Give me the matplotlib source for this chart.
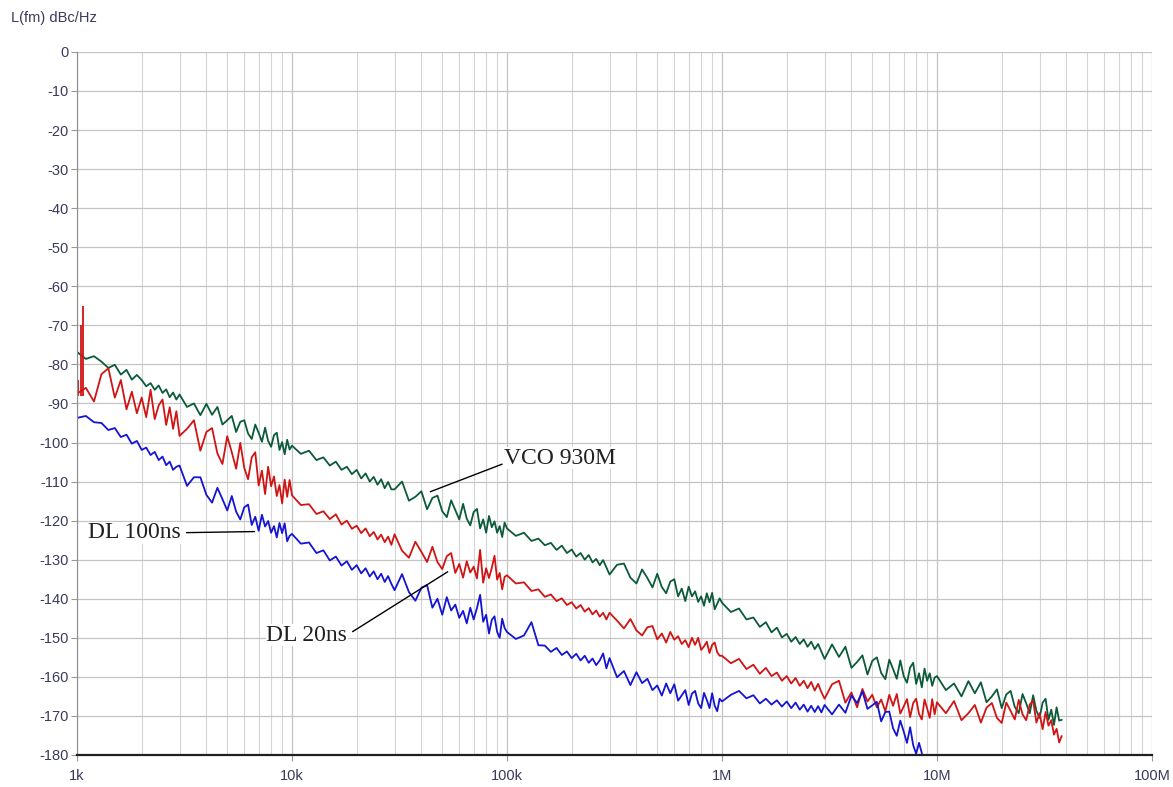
import matplotlib
matplotlib.use("Agg")
import matplotlib.pyplot as plt
from matplotlib.ticker import LogLocator, NullFormatter

plt.rcParams["axes.unicode_minus"] = False

# sweep points inside one decade (finer at the start of each decade)
mant = [1.0, 1.1, 1.2, 1.3, 1.4, 1.5, 1.6, 1.7, 1.8, 1.9, 2.0, 2.1, 2.2, 2.3, 2.4, 2.5, 2.6, 2.7, 2.8, 2.9,
        3.0, 3.25, 3.5, 3.75, 4.0, 4.25, 4.5, 4.75, 5.0, 5.25, 5.5, 5.75, 6.0, 6.25, 6.5, 6.75,
        7.0, 7.25, 7.5, 7.75, 8.0, 8.25, 8.5, 8.75, 9.0, 9.25, 9.5, 9.75]
# last (10M..38M) sweep
mant_top = [1.0, 1.1, 1.2, 1.3, 1.4, 1.5, 1.6, 1.7, 1.8, 1.9, 2.0, 2.1, 2.2, 2.3,
            2.4, 2.5, 2.6, 2.7, 2.8, 2.9, 3.0, 3.1, 3.2, 3.3, 3.4, 3.5, 3.6, 3.7, 3.8]

# VCO 930M (green), dBc/Hz
green_1k = [-76.8, -78.6, -77.9, -79.3, -80.9, -80.1, -82.6, -81.4, -83.9, -82.7, -84.0, -85.6, -84.8, -86.5,
            -85.4, -87.3, -86.4, -88.4, -87.2, -89.0,
            -87.7, -90.9, -90.0, -93.0, -90.1, -92.9, -90.9, -95.4, -94.3, -93.2, -97.3, -94.7, -94.3, -97.7,
            -99.1, -95.4, -97.5, -99.8, -96.2, -99.6, -101.1, -98.1, -97.5, -101.9, -99.9, -103.0, -99.3, -101.8]
green_10k = [-100.8, -102.9, -102.1, -104.5, -103.8, -105.9, -104.9, -107.0, -106.2, -108.1, -107.0, -109.2,
             -107.9, -110.0, -108.8, -110.8, -109.4, -111.7, -110.1, -112.0,
             -112.0, -110.0, -114.9, -113.9, -112.5, -117.1, -114.2, -113.6, -117.6, -119.1, -114.8, -117.3,
             -119.7, -115.7, -119.5, -121.2, -117.8, -117.0, -122.0, -119.7, -123.1, -118.8, -121.7, -120.2,
             -123.1, -121.4, -124.2, -120.5]
green_100k = [-122.0, -123.9, -123.1, -125.2, -124.6, -126.3, -125.7, -127.5, -126.4, -128.3, -127.4, -129.2,
              -128.3, -130.0, -128.8, -130.7, -129.8, -131.4, -130.1, -132.0,
              -133.8, -131.3, -131.0, -134.6, -136.1, -132.5, -134.7, -137.1, -133.6, -137.0, -138.6, -135.6,
              -135.0, -139.4, -137.4, -140.6, -136.9, -139.4, -138.1, -140.8, -139.4, -141.8, -138.6, -140.9,
              -138.5, -142.7, -141.3, -139.9]
green_1m = [-141.0, -143.4, -142.5, -145.3, -144.8, -147.2, -146.0, -148.6, -147.4, -149.9, -149.0, -151.0,
            -149.8, -151.6, -150.4, -152.3, -151.0, -152.9, -151.6, -153.5,
            -155.4, -151.7, -154.9, -152.3, -157.7, -156.2, -154.5, -159.4, -155.9, -155.0, -159.0, -160.6,
            -155.6, -158.0, -160.5, -155.8, -159.8, -161.5, -157.6, -156.4, -161.8, -159.1, -162.7, -157.9,
            -161.0, -159.1, -162.3, -160.2]
green_10m = [-159.8, -163.4, -161.7, -165.0, -161.1, -164.2, -161.4, -166.5, -165.0, -163.2,
             -168.0, -164.5, -163.6, -167.7, -169.3, -164.4, -166.8, -169.3, -164.7, -168.7,
             -170.5, -166.6, -165.6, -171.0, -168.4, -172.3, -167.8, -171.2, -171.0]

# DL 20ns (red)
red_1k = [-87.5, -86.0, -89.5, -82.5, -81.0, -88.5, -84.0, -91.5, -87.0, -92.5, -88.5, -93.5, -86.5, -94.0,
          -90.5, -89.0, -95.5, -91.0, -96.5, -92.0,
          -98.3, -96.5, -94.3, -102.1, -97.3, -96.3, -102.8, -105.5, -98.4, -102.5, -106.7, -100.1,
          -106.5, -109.4, -103.8, -102.5, -111.0, -107.2, -113.2, -106.2, -111.2, -108.7, -113.7, -110.9,
          -115.6, -109.5, -113.9, -109.6]
red_10k = [-113.5, -116.0, -115.8, -118.3, -117.6, -119.6, -118.4, -121.0, -120.0, -122.1, -121.3, -123.2,
           -122.0, -124.0, -122.9, -124.8, -123.6, -125.5, -124.1, -126.2,
           -123.5, -127.7, -129.5, -125.4, -128.0, -130.6, -126.7, -130.6, -132.4, -129.1, -128.3, -133.4,
           -131.1, -134.6, -130.4, -133.3, -131.8, -134.8, -127.5, -135.9, -132.2, -134.7, -132.1, -129.0,
           -135.1, -133.4, -137.6, -134.4]
red_100k = [-134.0, -136.1, -135.8, -138.0, -137.6, -139.5, -138.9, -140.6, -139.9, -141.6, -140.9, -142.5,
            -141.6, -143.3, -142.4, -144.0, -143.0, -144.6, -143.6, -145.3,
            -143.6, -145.6, -147.6, -145.2, -148.1, -149.4, -147.3, -147.0, -150.4, -148.9, -151.2, -148.5,
            -150.5, -149.6, -151.6, -150.6, -152.4, -150.0, -151.8, -150.0, -153.1, -152.2, -151.0, -153.9,
            -151.8, -151.2, -153.7, -154.6]
red_1m = [-154.6, -156.5, -155.4, -158.0, -156.9, -159.2, -157.7, -159.8, -158.9, -161.0, -159.8, -161.7,
          -160.3, -162.3, -161.0, -162.9, -161.3, -163.5, -161.8, -163.9,
          -165.6, -161.9, -161.0, -166.6, -164.0, -167.8, -163.1, -166.3, -164.6, -167.8, -165.8, -168.8,
          -164.6, -167.4, -164.4, -169.4, -167.6, -165.7, -170.3, -166.7, -165.6, -169.5, -170.9, -165.8,
          -168.1, -170.5, -165.7, -169.6]
red_10m = [-166.5, -169.3, -166.2, -171.1, -169.3, -167.2, -171.7, -167.9, -166.7, -170.5,
           -171.8, -166.6, -168.7, -170.9, -165.9, -169.6, -171.1, -167.1, -166.1, -171.7,
           -169.3, -173.4, -169.0, -172.5, -171.1, -174.8, -173.3, -176.8, -175.2]
# spur at the start of the red trace
red_spur_f = [1010, 1040, 1070]
red_spur_base = [-88, -88, -88]
red_spur_top = [-84, -70, -65]

# DL 100ns (blue)
blue_1k = [-93.7, -93.2, -94.8, -95.0, -96.8, -96.3, -98.6, -98.0, -100.3, -99.6, -101.9, -101.3, -103.2,
           -102.4, -104.5, -103.6, -105.8, -104.9, -107.0, -106.2,
           -105.9, -111.1, -108.9, -108.9, -113.4, -115.4, -111.6, -114.5, -117.4, -113.7, -117.7, -119.7,
           -116.6, -115.9, -121.1, -119.0, -122.6, -118.5, -121.5, -120.1, -123.1, -121.4, -124.3, -120.6,
           -123.2, -120.7, -125.3, -123.9]
blue_10k = [-123.4, -125.9, -125.6, -128.3, -127.6, -130.2, -129.2, -131.5, -130.4, -132.6, -131.4, -133.5,
            -132.2, -134.3, -133.0, -135.0, -133.6, -135.7, -134.2, -136.2,
            -137.8, -133.7, -138.3, -140.5, -137.2, -136.5, -142.3, -140.0, -144.1, -139.6, -143.0, -141.5,
            -144.9, -143.1, -146.3, -142.3, -145.3, -142.4, -139.0, -145.9, -144.1, -148.9, -145.4, -144.5,
            -148.5, -150.0, -145.1, -147.5]
blue_100k = [-148.5, -150.3, -149.4, -146.0, -151.9, -152.0, -153.6, -152.6, -154.4, -153.5, -155.2, -154.1,
             -155.8, -154.6, -156.4, -155.3, -157.0, -155.8, -154.0, -157.8,
             -155.2, -160.1, -158.5, -162.1, -158.8, -161.6, -160.5, -163.4, -162.2, -164.8, -161.7, -164.2,
             -161.9, -166.1, -164.7, -163.4, -167.2, -164.3, -163.6, -166.8, -168.0, -164.1, -165.9, -168.0,
             -164.2, -167.4, -168.8, -165.6]
blue_1m = [-166.3, -164.6, -163.6, -165.5, -164.7, -166.8, -165.6, -167.1, -166.0, -167.6, -166.3, -168.0,
           -166.6, -168.4, -167.1, -168.9, -167.4, -169.0, -167.5, -169.1,
           -167.2, -169.6, -167.1, -169.2, -164.8, -166.7, -163.7, -168.2, -167.3, -166.4, -171.4, -169.0,
           -168.9, -173.2, -175.1, -171.2, -174.0, -176.9, -172.9, -177.5, -179.7, -176.9, -179.5]

y_ticks = list(range(0, -190, -10))
x_ticks = [1e3, 1e4, 1e5, 1e6, 1e7, 1e8]
x_labels = ["1k", "10k", "100k", "1M", "10M", "100M"]


def sweep(parts):
    # join the decade sweeps into one trace
    f, db = [], []
    for start, m_list, vals in parts:
        for m, v in zip(m_list, vals):
            f.append(m * start)
            db.append(v)
    return f, db


green_f, green_db = sweep([(1e3, mant, green_1k), (1e4, mant, green_10k), (1e5, mant, green_100k),
                           (1e6, mant, green_1m), (1e7, mant_top, green_10m)])
red_f, red_db = sweep([(1e3, mant, red_1k), (1e4, mant, red_10k), (1e5, mant, red_100k),
                       (1e6, mant, red_1m), (1e7, mant_top, red_10m)])
blue_f, blue_db = sweep([(1e3, mant, blue_1k), (1e4, mant, blue_10k), (1e5, mant, blue_100k),
                         (1e6, mant, blue_1m)])

c_green = "#0b5a38"
c_red = "#d01414"
c_blue = "#1414d2"

fig = plt.figure(figsize=(11.73, 7.87), dpi=100)
ax = fig.add_axes([0.0656, 0.0407, 0.9165, 0.8933])

ax.plot(green_f, green_db, color=c_green, lw=1.3)
ax.plot(red_f, red_db, color=c_red, lw=1.3)
ax.vlines(red_spur_f, red_spur_base, red_spur_top, color=c_red, lw=1.3)
ax.plot(blue_f, blue_db, color=c_blue, lw=1.3)

ax.set_xscale("log")
ax.set_xlim(1e3, 1e8)
ax.set_ylim(-180, 0)

ax.set_yticks(y_ticks)
ax.set_xticks(x_ticks)
ax.set_xticklabels(x_labels)
ax.xaxis.set_minor_locator(LogLocator(base=10, subs=[2, 3, 4, 5, 6, 7, 8, 9], numticks=20))
ax.xaxis.set_minor_formatter(NullFormatter())
ax.grid(True, which="major", color="#c4c4c4", lw=0.9)
ax.grid(True, which="minor", axis="x", color="#d4d4d4", lw=0.8)
ax.set_axisbelow(True)

for lab in ax.get_xticklabels() + ax.get_yticklabels():
    lab.set_family("Liberation Sans")
    lab.set_fontsize(10.5)
    lab.set_color("#3a3a5c")
ax.tick_params(axis="y", direction="out", length=4, color="#999999", pad=2)
ax.tick_params(axis="x", which="major", direction="out", length=4, color="#999999", pad=6)
ax.tick_params(axis="x", which="minor", length=0)

ax.spines["top"].set_visible(False)
ax.spines["right"].set_visible(False)
ax.spines["left"].set_color("#8c8c8c")
ax.spines["bottom"].set_color("#202020")
ax.spines["bottom"].set_linewidth(1.6)

fig.text(0.009, 0.977, "L(fm) dBc/Hz", family="Liberation Sans", fontsize=10.5,
         color="#3a3a5c", va="center", ha="left")

label_font = dict(family="Liberation Serif", fontsize=17, color="#202020")
box = dict(facecolor="white", edgecolor="none", pad=0.5)
ax.annotate("VCO 930M", xy=(4.4e4, -112.6), xytext=(9.7e4, -104),
            va="center", ha="left", bbox=box, **label_font,
            arrowprops=dict(arrowstyle="-", color="black", lw=1, relpos=(0, 0.25),
                            shrinkA=1, shrinkB=0))
ax.annotate("DL 100ns", xy=(6.7e3, -122.8), xytext=(1.12e3, -123.1),
            va="center", ha="left", bbox=box, **label_font,
            arrowprops=dict(arrowstyle="-", color="black", lw=1, relpos=(1, 0.5),
                            shrinkA=4, shrinkB=0))
ax.annotate("DL 20ns", xy=(5.3e4, -133.1), xytext=(7.6e3, -149.3),
            va="center", ha="left", bbox=box, **label_font,
            arrowprops=dict(arrowstyle="-", color="black", lw=1, relpos=(1, 0.5),
                            shrinkA=4, shrinkB=0))

fig.savefig("out.png", dpi=100)
